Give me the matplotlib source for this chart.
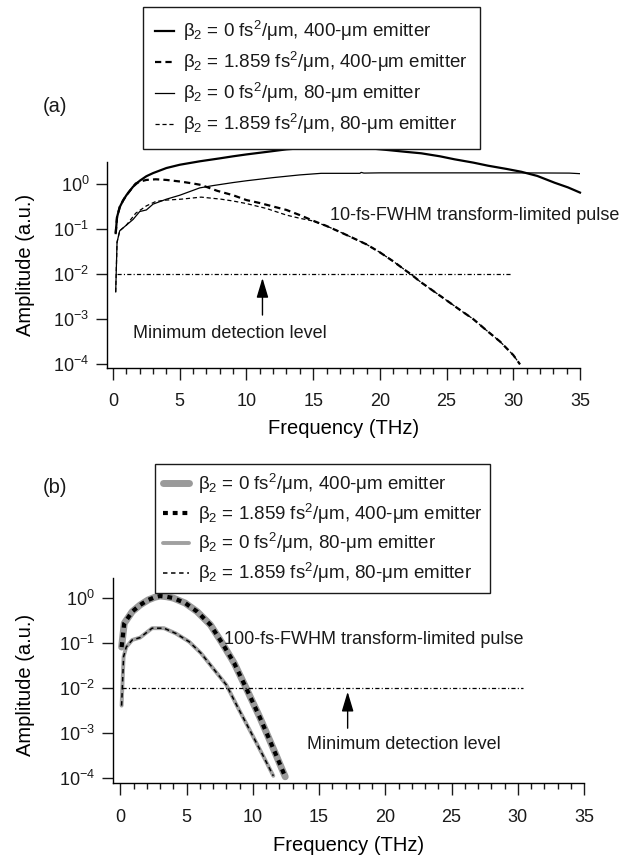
import matplotlib
matplotlib.use("Agg")
import matplotlib.pyplot as plt
from matplotlib.ticker import MultipleLocator, NullLocator

plt.rcParams.update({
    "font.family": ["Liberation Sans", "DejaVu Sans"],
    "mathtext.fontset": "custom",
    "mathtext.rm": "Liberation Sans",
    "mathtext.it": "Liberation Sans:italic",
    "mathtext.default": "regular",
    "lines.scale_dashes": False,
    "axes.linewidth": 1.0,
    "text.color": "#1a1a1a",
    "xtick.color": "#1a1a1a",
    "ytick.color": "#1a1a1a",
})

# --- (a) 10-fs pulse ---
a_f400 = [0.2, 0.3, 0.5, 0.75, 1.0, 1.5, 2.0, 2.5, 3, 4, 5, 6.5, 8, 9, 10, 11.5, 13, 15, 17,
          18, 19, 20.6, 22, 23.1, 24.5, 25.6, 27, 28.1, 29.5, 30.6, 31.8, 33.1, 34.1, 35]
a_tl400 = [0.08, 0.18, 0.3, 0.42, 0.55, 0.85, 1.15, 1.45, 1.7, 2.2, 2.6, 3.1, 3.6, 4.0, 4.4, 5.0,
           5.7, 6.3, 6.5, 6.45, 6.1, 5.5, 5.0, 4.66, 4.0, 3.43, 2.9, 2.48, 2.1, 1.82, 1.47, 1.04,
           0.82, 0.63]

a_f400c = [0.2, 0.3, 0.5, 0.75, 1.0, 1.5, 1.7, 2.0, 2.5, 3.2, 4, 5.1, 6, 6.6, 7.8, 9, 10, 11,
           12, 13, 14, 15, 16, 17, 18, 19, 20, 21, 22, 22.3, 23, 24, 25, 26, 27, 28, 29, 30, 30.5]
a_ch400 = [0.08, 0.18, 0.3, 0.42, 0.55, 0.85, 1.0, 1.1, 1.2, 1.24, 1.2, 1.1, 1.0, 0.93, 0.69,
           0.55, 0.43, 0.37, 0.31, 0.26, 0.2, 0.15, 0.115, 0.085, 0.062, 0.045, 0.03, 0.019,
           0.0115, 0.01, 0.0068, 0.0042, 0.0026, 0.0016, 0.001, 5.6e-4, 3.2e-4, 1.6e-4, 1e-4]

a_f80 = [0.2, 0.3, 0.5, 1.0, 1.5, 2.0, 2.5, 3, 4, 5, 6.5, 7.5, 9, 10, 12, 14, 15.6, 18.5, 18.6,
         18.8, 20, 25, 30, 34.2, 35]
a_tl80 = [0.004, 0.05, 0.09, 0.12, 0.16, 0.24, 0.26, 0.35, 0.45, 0.55, 0.8, 0.9, 1.05, 1.15,
          1.35, 1.55, 1.68, 1.68, 1.76, 1.7, 1.72, 1.72, 1.72, 1.7, 1.65]

a_f80c = [0.2, 0.3, 0.5, 1.0, 1.7, 2.5, 3.2, 4, 5.1, 6.6, 8.1, 9, 10, 11.5, 13, 14, 14.9, 16, 17,
          18, 19, 20, 21, 22, 22.3, 23, 24, 25, 26, 27, 28, 29, 30, 30.5]
a_ch80 = [0.004, 0.05, 0.09, 0.12, 0.22, 0.32, 0.4, 0.43, 0.45, 0.5, 0.45, 0.41, 0.36, 0.28,
          0.2, 0.17, 0.15, 0.115, 0.085, 0.062, 0.045, 0.03, 0.019, 0.0115, 0.01, 0.0068,
          0.0042, 0.0026, 0.0016, 0.001, 5.6e-4, 3.2e-4, 1.6e-4, 1e-4]

# --- (b) 100-fs pulse ---
b_f400 = [0.1, 0.3, 0.9, 1.5, 2.1, 2.6, 3.0, 3.5, 4.0, 4.9, 5.8, 6.8, 7.7, 8.6, 9.5, 10.5, 11.1,
          11.7, 12.45]
b_tl400 = [0.08, 0.27, 0.49, 0.69, 0.89, 1.02, 1.09, 1.05, 0.98, 0.76, 0.49, 0.25, 0.097,
           0.035, 0.0098, 0.0023, 9e-4, 3.5e-4, 1.05e-4]
b_ch400 = b_tl400

b_f80 = [0.1, 0.25, 0.45, 0.9, 1.5, 2.4, 3.3, 4.2, 5.2, 6.1, 7.0, 8.0, 8.9, 9.8, 10.75, 11.55]
b_tl80 = [0.004, 0.049, 0.08, 0.115, 0.13, 0.21, 0.21, 0.16, 0.105, 0.058, 0.027, 0.0116,
          0.0035, 0.0011, 3.2e-4, 1.1e-4]
b_ch80 = b_tl80

labels = [
    "β$_2$ = 0 fs$^2$/μm, 400-μm emitter",
    "β$_2$ = 1.859 fs$^2$/μm, 400-μm emitter",
    "β$_2$ = 0 fs$^2$/μm, 80-μm emitter",
    "β$_2$ = 1.859 fs$^2$/μm, 80-μm emitter",
]

detect_level = 0.01
FS = 13
LFS = 13.5

fig = plt.figure(figsize=(6.42, 8.6), dpi=100)
W, H = 642.0, 860.0


def make_axes(left, right, top, bottom):
    return fig.add_axes([left / W, 1 - bottom / H, (right - left) / W, (bottom - top) / H])


def style_axes(ax, xmin, ylo, yhi, spine_top):
    ax.set_yscale("log")
    ax.set_xlim(xmin, 35)
    ax.set_ylim(10 ** ylo, 10 ** yhi)
    for s in ("top", "right"):
        ax.spines[s].set_visible(False)
    ax.spines["left"].set_bounds(10 ** ylo, 10 ** spine_top)
    ax.xaxis.set_major_locator(MultipleLocator(5))
    ax.xaxis.set_minor_locator(MultipleLocator(1))
    ax.set_yticks([1e-4, 1e-3, 1e-2, 1e-1, 1e0])
    ax.yaxis.set_minor_locator(NullLocator())
    ax.tick_params(axis="x", which="major", direction="out", length=8.4, width=1,
                   labelsize=FS, pad=10)
    ax.tick_params(axis="x", which="minor", direction="out", length=4, width=1)
    ax.tick_params(axis="y", which="major", direction="out", length=8, width=1,
                   labelsize=FS, pad=5)
    ax.set_xlabel("Frequency (THz)", fontsize=14.5)
    ax.set_ylabel("Amplitude (a.u.)", fontsize=14.5)
    ax.patch.set_alpha(0)


def add_legend(ax, handles, left, top, hlen, spacing, pad):
    leg = ax.legend(handles, labels, loc="upper left",
                    bbox_to_anchor=(left / W, 1 - top / H), bbox_transform=fig.transFigure,
                    borderaxespad=0, fontsize=LFS, fancybox=False, framealpha=1,
                    edgecolor="#1a1a1a", handlelength=hlen, handletextpad=0.5,
                    labelspacing=spacing, borderpad=pad)
    leg.get_frame().set_linewidth(1.0)
    return leg


dashdot = (0, (3, 1.6, 0.8, 1.6))

# panel (a)
ax1 = make_axes(107.3, 580, 145, 367.7)
style_axes(ax1, -0.43, -4.075, 0.852, 0.469)
h1 = ax1.plot(a_f400, a_tl400, color="k", lw=1.6, clip_on=False)[0]
h2 = ax1.plot(a_f400c, a_ch400, color="k", lw=1.6, dashes=(4.5, 3))[0]
h3 = ax1.plot(a_f80, a_tl80, color="k", lw=0.9)[0]
h4 = ax1.plot(a_f80c, a_ch80, color="k", lw=0.9, dashes=(3, 2))[0]
ax1.plot([0.3, 29.9], [detect_level, detect_level], color="k", lw=0.9, linestyle=dashdot)
ax1.annotate("", xy=(11.2, 10 ** -2.09), xytext=(11.2, 10 ** -2.91),
             arrowprops=dict(arrowstyle="-|>,head_length=1.2,head_width=0.36",
                             color="k", lw=1, shrinkA=0, shrinkB=0))
ax1.text(8.73, 10 ** -3.31, "Minimum detection level", fontsize=FS, ha="center", va="center")
ax1.text(16.27, 10 ** -0.697, "10-fs-FWHM transform-limited pulse", fontsize=FS,
         ha="left", va="center", clip_on=False)
ax1.xaxis.set_label_coords(0.5, -0.23)
ax1.yaxis.set_label_coords(-(107.3 - 35) / 472.7, 0.46)
add_legend(ax1, [h1, h2, h3, h4], 143, 7, 1.0, 0.37, 0.65)
fig.text(55 / W, 1 - 106 / H, "(a)", fontsize=14.5, ha="center", va="center")

# panel (b)
ax2 = make_axes(113, 584, 577.7, 783.3)
style_axes(ax2, -0.55, -4.124, 0.444, 0.444)
g1 = ax2.plot(b_f400, b_tl400, color="#9a9a9a", lw=5, solid_capstyle="round")[0]
g2 = ax2.plot(b_f400, b_ch400, color="k", lw=3, dashes=(3.5, 3.5))[0]
g3 = ax2.plot(b_f80, b_tl80, color="#a0a0a0", lw=2.8, solid_capstyle="round")[0]
g4 = ax2.plot(b_f80, b_ch80, color="k", lw=1.1, dashes=(3.2, 2.6))[0]
ax2.plot([0.1, 30.4], [0.0097, 0.0097], color="k", lw=0.9, linestyle=dashdot)
ax2.annotate("", xy=(17.16, 10 ** -2.09), xytext=(17.16, 10 ** -2.9),
             arrowprops=dict(arrowstyle="-|>,head_length=1.2,head_width=0.36",
                             color="k", lw=1, shrinkA=0, shrinkB=0))
ax2.text(21.44, 10 ** -3.27, "Minimum detection level", fontsize=FS, ha="center", va="center")
ax2.text(7.81, 10 ** -0.94, "100-fs-FWHM transform-limited pulse", fontsize=FS,
         ha="left", va="center")
ax2.xaxis.set_label_coords(0.5, -0.255)
ax2.yaxis.set_label_coords(-(113 - 35) / 471.0, 0.48)
add_legend(ax2, [g1, g2, g3, g4], 155, 464.3, 1.4, 0.3, 0.4)
fig.text(55 / W, 1 - 488 / H, "(b)", fontsize=14.5, ha="center", va="center")

fig.savefig("out.png", dpi=100)
